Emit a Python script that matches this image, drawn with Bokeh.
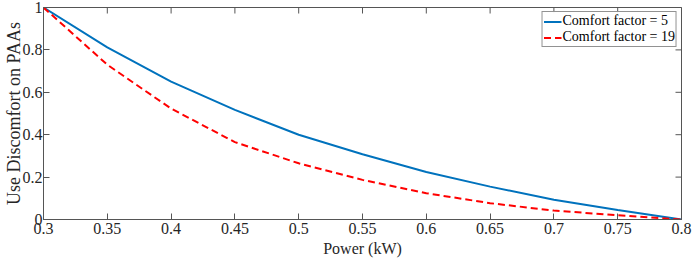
import math
from bokeh.plotting import figure
from bokeh.models import Range1d, FixedTicker, Legend, LegendItem
from bokeh.embed import file_html
from bokeh.resources import INLINE

power = [0.30, 0.35, 0.40, 0.45, 0.50, 0.55, 0.60, 0.65, 0.70, 0.75, 0.80]
comfort_5 = [1.0, 0.812, 0.65, 0.517, 0.40, 0.308, 0.224, 0.155, 0.093, 0.045, 0.0]
comfort_19 = [1.0, 0.73, 0.523, 0.365, 0.265, 0.187, 0.124, 0.077, 0.042, 0.02, 0.0]
x_ticks = [0.3, 0.35, 0.4, 0.45, 0.5, 0.55, 0.6, 0.65, 0.7, 0.75, 0.8]
x_labels = ["0.3", "0.35", "0.4", "0.45", "0.5", "0.55", "0.6", "0.65", "0.7", "0.75", "0.8"]
y_ticks = [0, 0.2, 0.4, 0.6, 0.8, 1]
y_labels = ["0", "0.2", "0.4", "0.6", "0.8", "1"]

FONT = "Liberation Serif"
AX = "#555555"

p = figure(width=692, height=259, output_backend="svg", toolbar_location=None,
           x_range=Range1d(0.3, 0.8), y_range=Range1d(0, 1),
           min_border_left=0, min_border_right=11, min_border_top=7, min_border_bottom=0)
p.grid.visible = False
p.outline_line_color = AX
p.outline_line_width = 1
p.background_fill_color = "white"

def style(ax, ticks, labels):
    ax.ticker = FixedTicker(ticks=ticks)
    ax.major_label_overrides = {t: l for t, l in zip(ticks, labels)}
    ax.major_tick_in = 6
    ax.major_tick_out = 0
    ax.minor_tick_line_color = None
    ax.axis_line_color = AX
    ax.major_tick_line_color = AX
    ax.major_label_text_font = FONT
    ax.major_label_text_font_size = "16px"
    ax.major_label_text_color = "#262626"
    ax.axis_label_text_font = FONT
    ax.axis_label_text_font_style = "normal"
    ax.axis_label_text_color = "#262626"

xa = p.xaxis[0]
style(xa, x_ticks, x_labels)
xa.axis_label = "Power (kW)"
xa.axis_label_text_font_size = "16px"
xa.major_label_standoff = 3
xa.axis_label_standoff = 3
ya = p.yaxis[0]
style(ya, y_ticks, y_labels)
ya.axis_label = "Use Discomfort on PAAs"
ya.axis_label_text_font_size = "18px"
ya.major_label_standoff = 1
ya.axis_label_standoff = -4

# box ticks on top and right edges (inner half only is visible inside the frame)
p.scatter(x=x_ticks, y=[y_ticks[-1]] * len(x_ticks), marker="dash", size=12,
          angle=math.pi / 2, line_color=AX, line_width=1)
p.scatter(x=[x_ticks[-1]] * len(y_ticks), y=y_ticks, marker="dash", size=12,
          angle=0, line_color=AX, line_width=1)

r1 = p.line(power, comfort_5, line_color="#0072BD", line_width=2)
r2 = p.line(power, comfort_19, line_color="#FF0000", line_width=2, line_dash="7 4")

legend = Legend(items=[LegendItem(label="Comfort factor = 5", renderers=[r1]),
                       LegendItem(label="Comfort factor = 19", renderers=[r2])],
                location="top_right")
legend.label_text_font = FONT
legend.label_text_font_size = "14px"
legend.label_text_color = "#000000"
legend.border_line_color = "#262626"
legend.border_line_width = 1
legend.glyph_width = 18
legend.glyph_height = 13
legend.label_standoff = 1
legend.padding = 1
legend.spacing = 0
legend.margin = 4
legend.label_height = 13
p.add_layout(legend)

open("out.html", "w").write(file_html(p, INLINE))
